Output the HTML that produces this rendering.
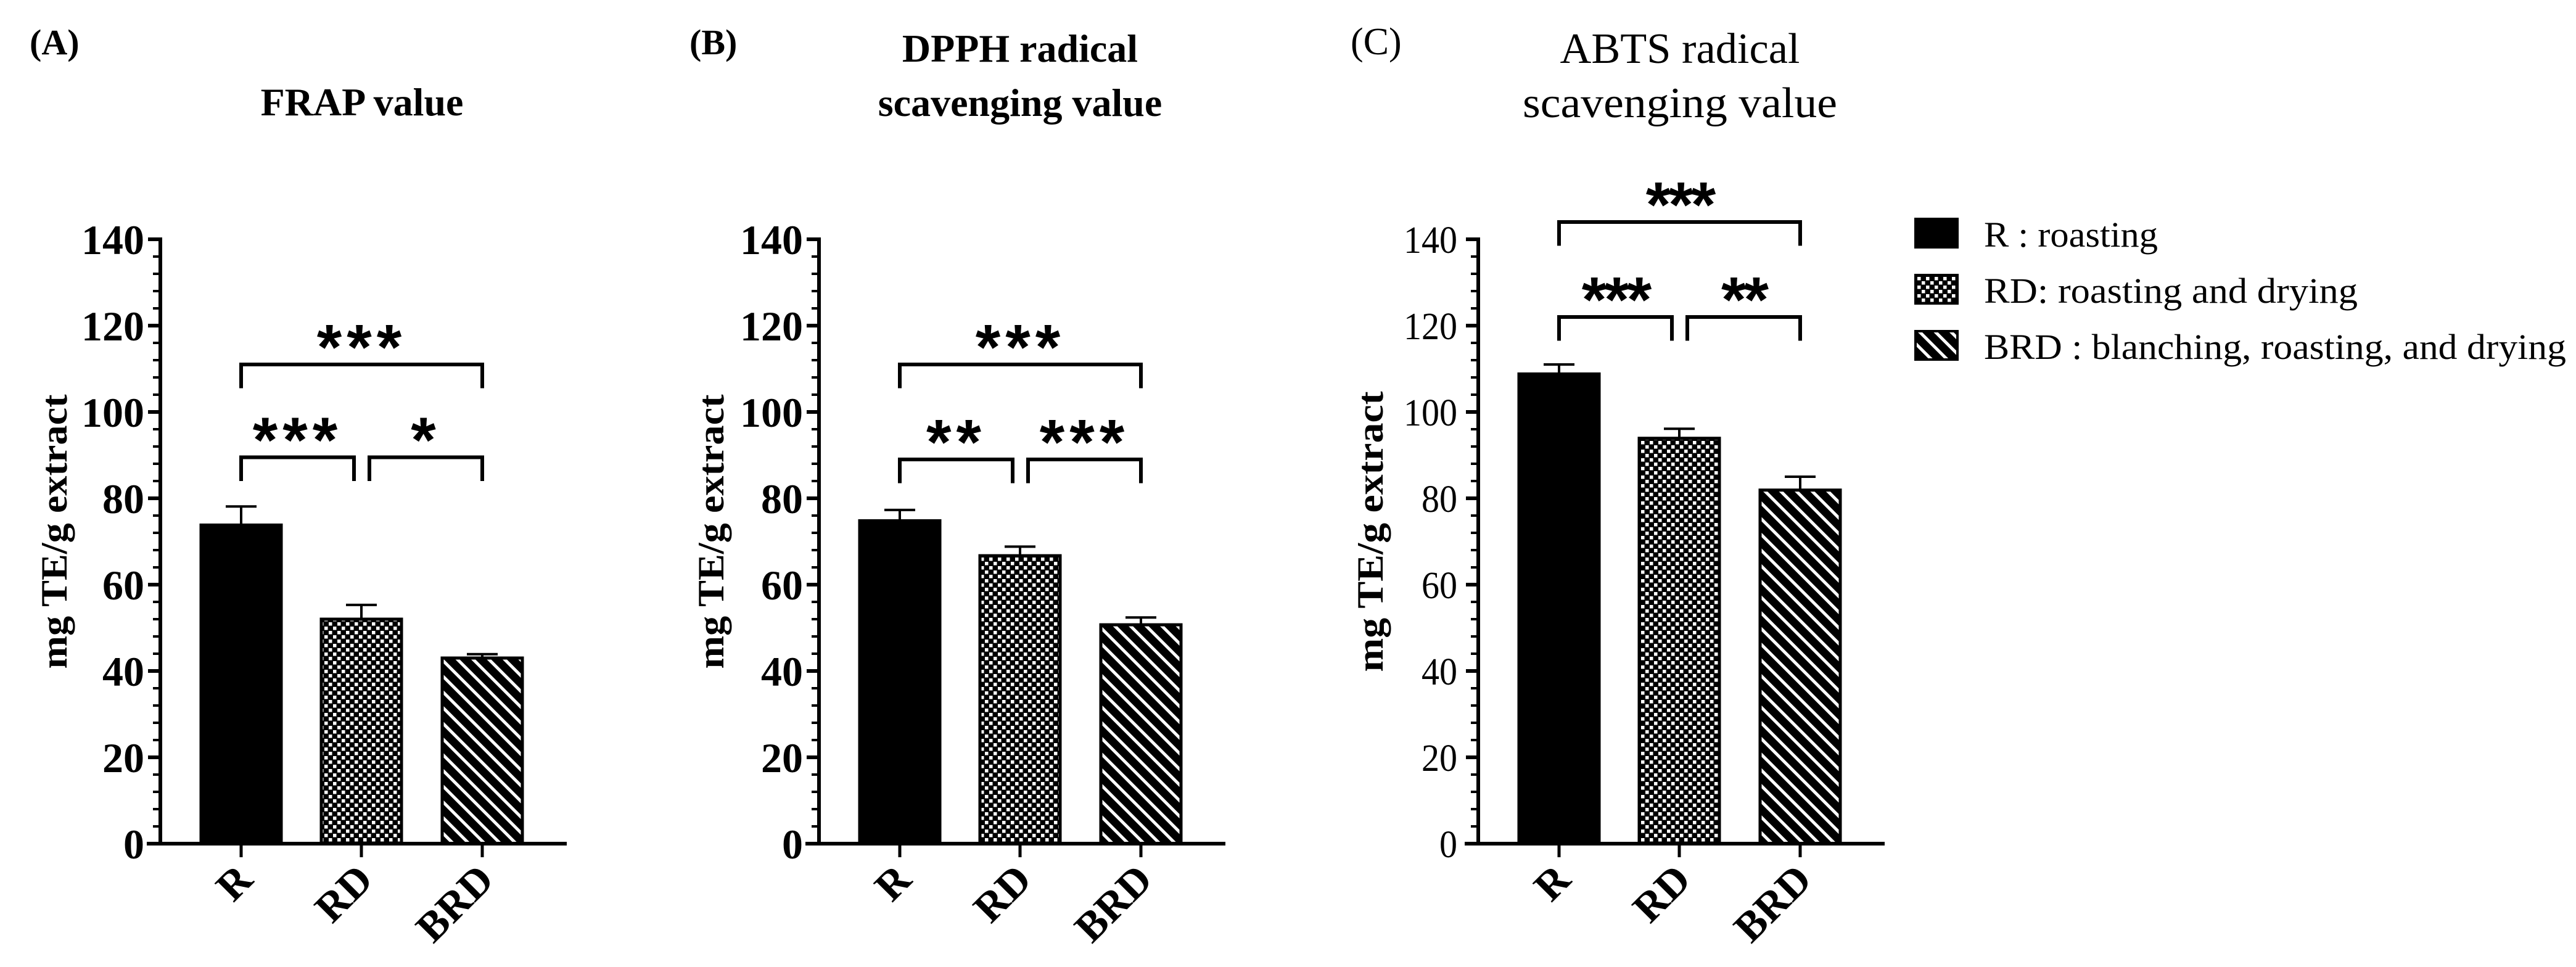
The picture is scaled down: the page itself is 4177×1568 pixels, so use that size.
<!DOCTYPE html>
<html><head><meta charset="utf-8"><style>
html,body{margin:0;padding:0;background:#fff;}
svg{display:block;}
text{font-family:"Liberation Serif",serif;fill:#000;}
</style></head><body>
<svg id="fig" width="4177" height="1568" viewBox="0 0 4177 1568" xmlns="http://www.w3.org/2000/svg">
<defs>
<pattern id="checker" width="14" height="14" patternUnits="userSpaceOnUse">
<rect width="14" height="14" fill="#000"/><rect x="1" y="1" width="5.5" height="5.5" fill="#fff"/><rect x="8" y="8" width="5.5" height="5.5" fill="#fff"/>
</pattern>
<pattern id="stripes" width="18" height="18" patternUnits="userSpaceOnUse" patternTransform="rotate(-45)">
<rect width="18" height="18" fill="#000"/><rect x="0" y="0" width="5" height="18" fill="#fff"/>
</pattern>
</defs>
<g id="root"></g>
</svg>
<script>
const categories = ["R","RD","BRD"];
const fillsByCategory = ["#000","url(#checker)","url(#stripes)"];
const yTicks = [0,20,40,60,80,100,120,140];
const yTickLabels = ["0","20","40","60","80","100","120","140"];
const panelLetters = ["(A)","(B)","(C)"];
const frapValues = [73.8,52.0,43.0];
const frapErrors = [4.3,3.3,0.9];
const dpphValues = [74.8,66.7,50.7];
const dpphErrors = [2.5,2.1,1.7];
const abtsValues = [108.8,93.9,81.9];
const abtsErrors = [2.2,2.2,3.1];
const frapBrackets = [[0,2,111,"***"],[0,1,89.5,"***"],[1,2,89.5,"*"]];
const dpphBrackets = [[0,2,111,"***"],[0,1,89,"**"],[1,2,89,"***"]];
const abtsBrackets = [[0,2,144,"***"],[0,1,122,"***"],[1,2,122,"**"]];
const legendLabels = ["R : roasting","RD: roasting and drying","BRD : blanching, roasting, and drying"];

const NS="http://www.w3.org/2000/svg";
const root=document.getElementById('root');
function mk(tag,attrs,parent,txt){const e=document.createElementNS(NS,tag);for(const k in attrs)e.setAttribute(k,attrs[k]);if(txt!==undefined)e.textContent=txt;(parent||root).appendChild(e);return e;}

const Y0=1368, PX=7.0;
function yScale(v){return Y0-v*PX;}
const offsets=[131,326,522];
const BW=130;

const panels=[
 {ax:260, vals:frapValues, errs:frapErrors, br:frapBrackets, title:["FRAP value"], tx:587, ty:[187], narrow:false, lx:88, name:"frap"},
 {ax:1328, vals:dpphValues, errs:dpphErrors, br:dpphBrackets, title:["DPPH radical","scavenging value"], tx:1654, ty:[100,188], narrow:false, lx:1153, name:"dpph"},
 {ax:2397, vals:abtsValues, errs:abtsErrors, br:abtsBrackets, title:["ABTS radical","scavenging value"], tx:2724, ty:[102,190], narrow:true, lx:2222, name:"abts"}
];
const letterX=[48,1118,2190];

panels.forEach((p,pi)=>{
 const g=mk('g',{});
 
 
 const L=mk('text',{x:letterX[pi],y:88,'font-size':p.narrow?62:58,'font-weight':p.narrow?'normal':'bold'},g,panelLetters[pi]);
 
 
 p.title.forEach((t,i)=>{
  const tt=mk('text',{x:p.tx,y:p.ty[i],'text-anchor':'middle','font-size':p.narrow?70:64,'font-weight':p.narrow?'normal':'bold'},g,t);
  if(p.narrow){tt.setAttribute('textLength', i==0?389:510);tt.setAttribute('lengthAdjust','spacingAndGlyphs');}
  
  
 });
 p.vals.forEach((v,i)=>{
  const cx=p.ax+offsets[i];
  const r=mk('rect',{x:cx-BW/2,y:yScale(v),width:BW,height:Y0-yScale(v),fill:fillsByCategory[i],stroke:'#000','stroke-width':5},g);
  
  
  const top=yScale(v+p.errs[i]);
  const e=mk('path',{d:`M${cx},${yScale(v)}V${top}M${cx-25},${top}H${cx+25}`,stroke:'#000','stroke-width':4,fill:'none'},g);
  
  
 });
 const ya=mk('g',{},g);
 
 
 mk('line',{x1:p.ax,y1:yScale(140)-3,x2:p.ax,y2:Y0+3,stroke:'#000','stroke-width':6},ya);
 for(let v=0;v<=140;v+=4){ if(v%20===0) continue; mk('line',{x1:p.ax-12,y1:yScale(v),x2:p.ax,y2:yScale(v),stroke:'#000','stroke-width':4},ya);}
 yTicks.forEach((v,i)=>{
  mk('line',{x1:p.ax-20,y1:yScale(v),x2:p.ax,y2:yScale(v),stroke:'#000','stroke-width':6},ya);
  const lab=yTickLabels[i];
  const t=mk('text',{x:p.narrow?p.ax-34:p.ax-26,y:yScale(v)+(p.narrow?22:24),'text-anchor':'end','font-size':p.narrow?62:68,'font-weight':p.narrow?'normal':'bold'},ya,lab);
  if(p.narrow){t.setAttribute('textLength', lab.length*29);t.setAttribute('lengthAdjust','spacingAndGlyphs');}
  
  
 });
 const yl=mk('text',{x:0,y:0,'text-anchor':'middle','font-size':60,'font-weight':'bold',transform:`translate(${p.lx+20},862) rotate(-90)`,textLength:p.narrow?455:445,lengthAdjust:'spacingAndGlyphs'},g,'mg TE/g extract');
 
 
 const xa=mk('g',{},g);
 
 
 mk('line',{x1:p.ax-22,y1:Y0,x2:p.ax+659,y2:Y0,stroke:'#000','stroke-width':6},xa);
 categories.forEach((c,i)=>{
  const cx=p.ax+offsets[i];
  mk('line',{x1:cx,y1:Y0,x2:cx,y2:Y0+22,stroke:'#000','stroke-width':5},xa);
  const t=mk('text',{x:0,y:0,'text-anchor':'end','font-size':68,'font-weight':'bold',transform:`translate(${cx+22},${Y0+62}) rotate(-45)`},xa,c);
  
  
 });
 p.br.forEach(b=>{
  const [a,c,lev,lab]=b;
  let x1=p.ax+offsets[a], x2=p.ax+offsets[c];
  if(c-a===1){ if(a===0) x2-=12; else x1+=13; }
  const yb=yScale(lev), yd=yScale(lev-5.5);
  const br=mk('path',{d:`M${x1},${yd}V${yb}H${x2}V${yd}`,stroke:'#000','stroke-width':6,fill:'none'},g);
  
  
  const st=mk('text',{x:(x1+x2)/2,y:yScale(lev+7.5)+60,'text-anchor':'middle','font-size':104,'font-weight':'bold','letter-spacing':p.narrow?-4:8,style:'font-family:"Liberation Sans",sans-serif'},g,lab);
  
  
 });
});

const lg=mk('g',{});


const legY=[353,444,535], legW=[282,606,944];
legendLabels.forEach((l,i)=>{
 const en=mk('g',{},lg);
 
 
 mk('rect',{x:3106,y:legY[i]+2,width:68,height:46,fill:fillsByCategory[i],stroke:'#000','stroke-width':4},en);
 mk('text',{x:3217,y:legY[i]+47,'font-size':58,textLength:legW[i],lengthAdjust:'spacingAndGlyphs'},en,l);
});
</script>
</body></html>
